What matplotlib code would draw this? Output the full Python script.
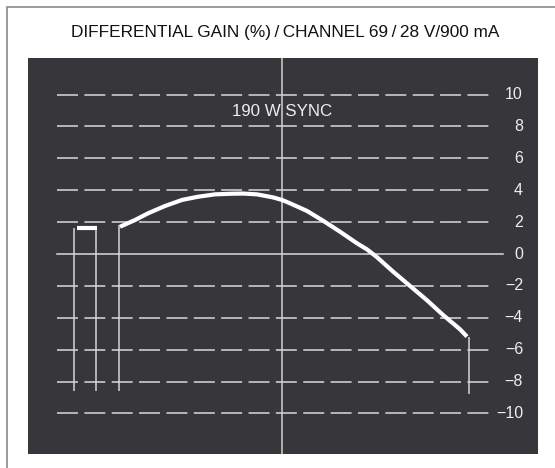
import matplotlib
matplotlib.use("Agg")
from matplotlib import pyplot as plt
from matplotlib.patches import Rectangle

plt.rcParams['font.family'] = ['Liberation Sans', 'DejaVu Sans']
plt.rcParams['lines.scale_dashes'] = False

#%% Data
title = "DIFFERENTIAL GAIN (%)\u2009/\u2009CHANNEL 69\u2009/\u200928 V/900 mA"
label = "190 W SYNC"

# gain curve (x = position across the sweep, y = gain in %)
curve_x = [92, 107, 120, 137, 154, 170, 187, 204, 215, 229, 245, 254, 262,
           279, 295, 312, 329, 339, 349, 365, 382, 399, 415, 432, 439]
curve_y = [1.71, 2.13, 2.55, 3.01, 3.39, 3.59, 3.74, 3.78, 3.79, 3.74, 3.55,
           3.39, 3.18, 2.70, 2.09, 1.40, 0.67, 0.29, -0.2, -1.1, -2.0,
           -2.9, -3.82, -4.72, -5.18]

# sync pulse level
sync_x = [49, 69]
sync_y = [1.6, 1.6]

# vertical marker lines
mark_x = [46, 68, 91, 441]
mark_top = [1.63, 1.63, 1.82, -5.2]
mark_bot = [-8.59, -8.59, -8.59, -8.78]

yticks = [10, 8, 6, 4, 2, 0, -2, -4, -6, -8, -10]
ytick_labels = ["10", "8", "6", "4", "2", "0", "\u22122", "\u22124", "\u22126", "\u22128", "\u221210"]

#%% Figure
W, H = 555, 468
fig = plt.figure(figsize=(W / 100, H / 100), dpi=100)
fig.patch.set_facecolor("white")

# outer frame
fig.patches.append(Rectangle((7 / W, -0.1), 1.2, (H - 7) / H + 0.1, transform=fig.transFigure,
                             fill=False, edgecolor="#8a8a8a", linewidth=1.2))

fig.text(285 / W, 1 - 33 / H, title, ha="center", va="center", fontsize=12.4, color="#111111")

ax = fig.add_axes([28 / W, 1 - 454 / H, (538 - 28) / W, (454 - 58) / H])
ax.set_facecolor("#37363b")
ax.set_xlim(0, 510)
ax.set_ylim(-12.54, 12.29)
for s in ax.spines.values():
    s.set_visible(False)
ax.set_xticks([])
ax.set_yticks([])

grid_c = "#d9d9d9"
# dashed grid
for v in yticks:
    if v == 0:
        ax.plot([29, 475], [0, 0], color=grid_c, lw=1.1)
    else:
        ax.plot([29, 461], [v, v], color=grid_c, lw=1.1, linestyle=(0, (15.1, 4.6)))

# centre line
ax.axvline(254, color="#d0d0d0", lw=1.1)

# tick labels
for v, t in zip(yticks, ytick_labels):
    ax.text(495, v, t, ha="right", va="center", fontsize=11.5, color="#eeeeee")

# markers
ax.vlines(mark_x, mark_bot, mark_top, color="#d6d6d6", lw=1.1)

# sync and gain curve
ax.plot(sync_x, sync_y, color="white", lw=3, solid_capstyle="butt")
ax.plot(curve_x, curve_y, color="white", lw=3, solid_joinstyle="round", solid_capstyle="butt")

ax.text(254, 8.95, label, ha="center", va="center", fontsize=12.2, color="#eeeeee")

fig.savefig("out.png", dpi=100, facecolor=fig.get_facecolor())
